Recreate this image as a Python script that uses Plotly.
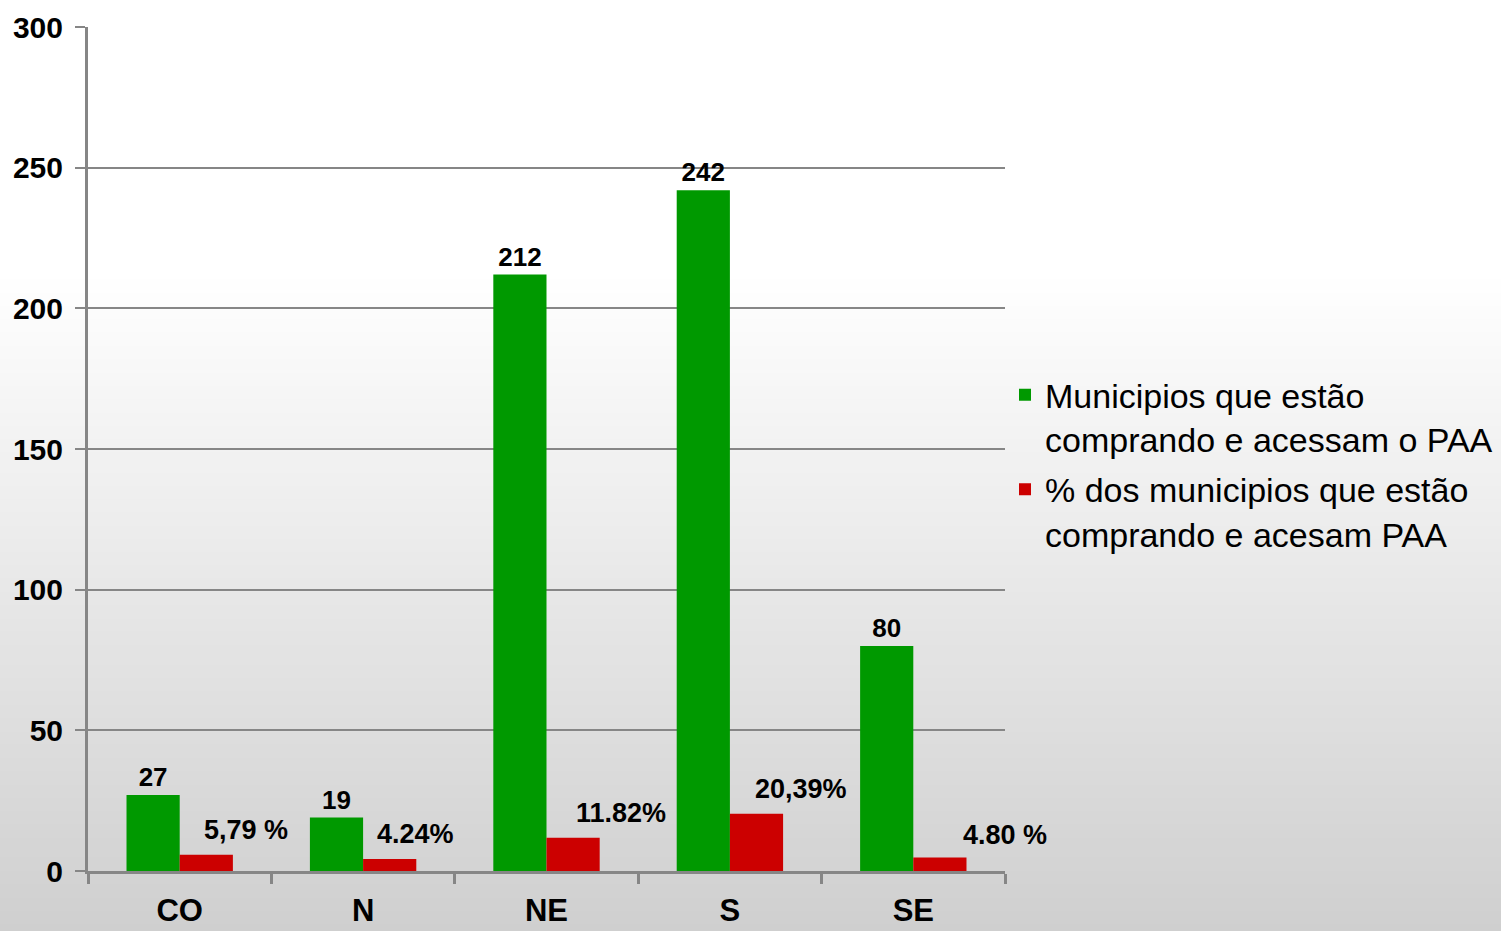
import plotly.graph_objects as go

categories = ["CO", "N", "NE", "S", "SE"]
municipios = [27, 19, 212, 242, 80]
percentuais = [5.79, 4.24, 11.82, 20.39, 4.80]
labels_municipios = ["27", "19", "212", "242", "80"]
labels_percentuais = ["5,79 %", "4.24%", "11.82%", "20,39%", "4.80 %"]
y_ticks = [0, 50, 100, 150, 200, 250, 300]
series_names = ["Municipios que estão<br>comprando e acessam o PAA",
                "% dos municipios que estão<br>comprando e acesam PAA"]

# label offsets (pixels) for percentage labels, as placed in the original
pct_xshift = [66, 52, 74, 71, 92]
pct_yshift = [8, 8, 8, 8, 6]

FONT = "Liberation Sans, Arial, sans-serif"
GREEN = "#009900"
RED = "#cc0000"
GRID = "#868686"

fig = go.Figure()
fig.add_trace(go.Bar(
    x=categories, y=municipios, name=series_names[0], legendgroup="a",
    marker=dict(color=GREEN, line=dict(width=0)),
    text=labels_municipios, textposition="outside", cliponaxis=False,
    textfont=dict(family=FONT, size=26, color="black", weight="bold"),
))
fig.add_trace(go.Bar(
    x=categories, y=percentuais, name=series_names[1], legendgroup="b",
    marker=dict(color=RED, line=dict(width=0)),
))

for c, v, t, dx, dy in zip(categories, percentuais, labels_percentuais, pct_xshift, pct_yshift):
    fig.add_annotation(
        x=c, y=v, xref="x", yref="y", text=t, showarrow=False,
        xanchor="center", yanchor="bottom", xshift=dx, yshift=dy,
        font=dict(family=FONT, size=27, color="black", weight="bold"),
    )

W, H = 1501, 931
ml, mt, pw, ph = 88, 27, 917, 844
mr, mb = W - ml - pw, H - mt - ph

# vertical gradient background (white top -> light gray bottom)
n = 140
for i in range(n):
    py0 = i * H / n
    py1 = (i + 1) * H / n + 1
    pm = (py0 + py1) / 2
    if pm <= 270:
        g = 255
    else:
        g = round(255 - (pm - 270) / (H - 270) * 48)
    col = f"rgb({g},{g},{g})"
    fig.add_shape(
        type="rect", xref="paper", yref="paper", layer="below",
        x0=-ml / pw - 0.01, x1=(W - ml) / pw + 0.01,
        y0=(H - mb - py1) / ph, y1=(H - mb - py0) / ph,
        fillcolor=col, line=dict(width=0),
    )

fig.update_layout(
    width=W, height=H,
    margin=dict(l=ml, r=mr, t=mt, b=mb, pad=0, autoexpand=False),
    paper_bgcolor="white", plot_bgcolor="rgba(0,0,0,0)",
    barmode="group", bargap=0.42, bargroupgap=0,
    font=dict(family=FONT, color="black"),
    showlegend=True,
    legend=dict(
        x=1.0, xanchor="left", y=0.482, yanchor="middle",
        font=dict(family=FONT, size=34, color="black"),
        bgcolor="rgba(0,0,0,0)", valign="top",
        traceorder="grouped", tracegroupgap=3,
        itemwidth=30,
    ),
    xaxis=dict(
        type="category", range=[-0.5, 4.5], showgrid=False, automargin=False,
        showline=True, linecolor=GRID, linewidth=3,
        ticks="outside", tickson="boundaries", ticklen=10, tickwidth=3, tickcolor=GRID,
        tickfont=dict(family=FONT, size=31, color="black", weight="bold"),
        ticklabelstandoff=10,
    ),
    yaxis=dict(
        range=[0, 300], tickvals=y_ticks, showgrid=True, gridcolor=GRID, gridwidth=2,
        automargin=False,
        showline=True, linecolor=GRID, linewidth=3, zeroline=False,
        ticks="outside", ticklen=10, tickwidth=2, tickcolor=GRID,
        tickfont=dict(family=FONT, size=30, color="black", weight="bold"),
        ticklabelstandoff=6,
    ),
)

fig.write_html(
    "out.html",
    config={"displayModeBar": False},
    post_script="document.body.style.margin='0';document.body.style.overflow='hidden';",
)
